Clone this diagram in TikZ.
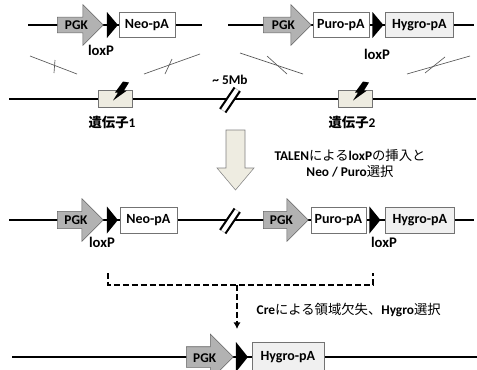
\documentclass[tikz,border=0pt]{standalone}
\usepackage{fontspec}
\setmainfont{Carlito}
\newfontfamily\jpfont{Noto Sans CJK JP}
\usetikzlibrary{arrows,arrows.meta,shapes,positioning}
\definecolor{beige}{HTML}{EEECE1}
\newcommand{\jp}[1]{{\jpfont\mdseries #1}}
\newcommand{\jpb}[1]{{\jpfont\bfseries #1}}
\tikzset{
    dna/.style = {draw, line width=1.4pt},
    pgk/.style = {single arrow, draw=black!60, fill=black!30, font=\bfseries,
        single arrow head extend=9.5pt, single arrow tip angle=90,
        text height=6.5pt, text depth=0pt, inner xsep=1pt, inner ysep=2.4pt,
        minimum height=34.5pt, anchor=tail},
    cassette/.style = {draw=black!55, fill=white, rectangle,
        font=\bfseries\fontsize{10.5}{12}\selectfont,
        minimum height=18.75pt, inner sep=0pt},
    loxp/.style = {isosceles triangle, isosceles triangle stretches,
        fill=black, inner sep=0pt, minimum height=8.25pt, minimum width=19.5pt},
    gene/.style = {draw=black!55, fill=beige, minimum width=25.5pt,
        minimum height=12.75pt, inner sep=0pt},
    xover/.style = {draw=black!65, line width=0.5pt},
    tag/.style = {font=\bfseries\fontsize{11}{13}\selectfont},
    brk/.style = {draw=black!30, fill=white, rectangle, minimum width=4.5pt,
        minimum height=19pt, inner sep=0pt, rotate=-34},
    slash/.style = {draw, line width=1.5pt},
    cutline/.style = {line width=1.1pt, dash pattern=on 4.5pt off 2.2pt}
}

\begin{document}
\begin{tikzpicture}[x=0.75pt, y=-0.75pt, >={Latex[length=5pt,width=5.5pt]}, font=\bfseries]
    \useasboundingbox (0,0) rectangle (477,369);

    % donor vectors
    \coordinate (a0) at (28,25);
    \coordinate (a1) at (202,25);
    \coordinate (b0) at (228,25);
    \coordinate (b1) at (474,25);
    \draw [dna] (a0) -- (a1);
    \draw [dna] (b0) -- (b1);
    \node [pgk] (pgkA) at (57,25) {PGK};
    \node [loxp, right=2.25pt of pgkA.tip] (loxA) {};
    \node [cassette, minimum width=42pt, right=0pt of loxA] (neoA) {Neo-pA};
    \node [tag] (loxpA) at (101,50) {loxP};
    \node [pgk, minimum height=36pt] (pgkB) at (263,25) {PGK};
    \node [cassette, minimum width=42pt, right=0.75pt of pgkB.tip] (puroB) {Puro-pA};
    \node [loxp, right=2.25pt of puroB] (loxB) {};
    \node [cassette, minimum width=51pt, fill=black!6, right=0.75pt of loxB] (hygB) {Hygro-pA};
    \node [tag] (loxpB) at (377,54) {loxP};

    % homologous arms
    \draw [xover] (30,56) -- (77,74);
    \draw [xover] (55,60) -- (54,73);
    \draw [xover] (144,74) -- (200,54);
    \draw [xover] (172,59) -- (165,74);
    \draw [xover] (240,53) -- (303,74);
    \draw [xover] (267,56) -- (287,74);
    \draw [xover] (407,74) -- (470,56);
    \draw [xover] (445,57) -- (425,73);

    % genome
    \coordinate (g0) at (9,99);
    \coordinate (g1) at (476,99);
    \draw [dna] (g0) -- (g1);
    \node [gene] (gene1) at (115,98.5) {};
    \node [gene] (gene2) at (355,98.5) {};
    \fill [shift={(gene1.center)}] (8,-17) -- (14,-16) -- (9,-8) -- (12,-8)
        -- (-2,2) -- (3,-6) -- (0,-6) -- cycle;
    \fill [shift={(gene2.center)}] (8,-17) -- (14,-16) -- (9,-8) -- (12,-8)
        -- (-2,2) -- (3,-6) -- (0,-6) -- cycle;
    \node (name1) at (112,122) {\jpb{遺伝子}1};
    \node (name2) at (352,122) {\jpb{遺伝子}2};
    \node [brk] (brkA) at (230,100) {};
    \draw [slash] (brkA.north west) -- (brkA.south west);
    \draw [slash] (brkA.north east) -- (brkA.south east);
    \node (dist) at (230,80) {\textasciitilde{} 5Mb};

    % step arrow
    \draw [draw=black!50, fill=beige] (226,130) -- (245,130) -- (245,168)
        -- (254,168) -- (235.5,190) -- (217,168) -- (226,168) -- cycle;
    \node [align=center] (talen) at (350,163)
        {TALEN\jp{による}loxP\jp{の挿入と}\\Neo / Puro\jp{選択}};

    % targeted allele
    \coordinate (c0) at (9,220);
    \coordinate (c1) at (474,220);
    \draw [dna] (c0) -- (c1);
    \node [pgk, text height=7pt, inner ysep=2.8pt] (pgkC) at (57,220) {PGK};
    \node [loxp, minimum width=20.25pt, right=2.25pt of pgkC.tip] (loxC) {};
    \node [cassette, minimum width=42.75pt, minimum height=19.5pt, right=0.75pt of loxC] (neoC) {Neo-pA};
    \node [brk] (brkC) at (230,221) {};
    \draw [slash] (brkC.north west) -- (brkC.south west);
    \draw [slash] (brkC.north east) -- (brkC.south east);
    \node [pgk, minimum height=33.75pt, text height=7pt, inner ysep=2.8pt] (pgkD) at (263,220) {PGK};
    \node [cassette, minimum width=41.25pt, minimum height=19.5pt, right=1.5pt of pgkD.tip] (puroD) {Puro-pA};
    \node [loxp, minimum width=20.25pt, right=2.25pt of puroD] (loxD) {};
    \node [cassette, minimum width=51.75pt, minimum height=19.5pt, fill=black!6, right=3pt of loxD] (hygD) {Hygro-pA};
    \node [tag] (loxpC) at (102,242) {loxP};
    \node [tag] (loxpD) at (384,242) {loxP};

    % Cre excision
    \coordinate (s0) at (108,273);
    \coordinate (s1) at (108,285);
    \coordinate (s2) at (373,285);
    \coordinate (s3) at (373,273);
    \coordinate (m0) at (237,285);
    \coordinate (m1) at (237,329);
    \draw [cutline] (s0) -- (s1) -- (s2) -- (s3);
    \draw [->, cutline] (m0) -- (m1);
    \node [anchor=west] (cre) at (252,310) {Cre\jp{による領域欠失、}Hygro\jp{選択}};

    % deleted allele
    \coordinate (e0) at (12,357);
    \coordinate (e1) at (477,357);
    \draw [dna] (e0) -- (e1);
    \node [pgk, minimum height=35.25pt, text height=8pt, inner ysep=3.5pt] (pgkE) at (186,357) {PGK};
    \node [loxp, minimum height=9pt, minimum width=22.5pt, right=1.5pt of pgkE.tip] (loxE) {};
    \node [cassette, minimum width=54pt, minimum height=22.5pt, fill=black!6, right=2.25pt of loxE] (hygE) {Hygro-pA};
\end{tikzpicture}
\end{document}
